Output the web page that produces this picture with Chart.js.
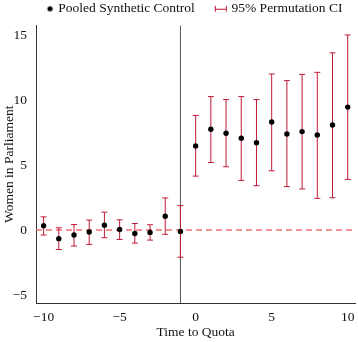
<!DOCTYPE html>
<html>
<head>
<meta charset="utf-8">
<script src="https://cdn.jsdelivr.net/npm/chart.js@4.4.1/dist/chart.umd.min.js"></script>
<style>
  html, body { margin: 0; padding: 0; background: #ffffff; }
  canvas { display: block; }
</style>
</head>
<body>
<canvas id="chart" width="358" height="342"></canvas>
<script>
// Years relative to quota adoption
const TIME = [-10, -9, -8, -7, -6, -5, -4, -3, -2, -1, 0, 1, 2, 3, 4, 5, 6, 7, 8, 9, 10];
// Pooled synthetic control estimate (women in parliament, % points)
const ESTIMATE = [0.33, -0.66, -0.38, -0.15, 0.38, 0.05, -0.26, -0.18, 1.07, -0.10,
                  6.49, 7.77, 7.46, 7.08, 6.74, 8.33, 7.41, 7.59, 7.33, 8.10, 9.48];
// 95% permutation confidence interval
const CI_LOWER = [-0.38, -1.50, -1.23, -1.10, -0.59, -0.72, -1.00, -0.77, -0.33, -2.09,
                  4.16, 5.21, 4.88, 3.83, 3.42, 4.57, 3.35, 3.17, 2.45, 2.50, 3.91];
const CI_UPPER = [1.02, 0.18, 0.43, 0.77, 1.38, 0.79, 0.51, 0.41, 2.48, 1.89,
                  8.84, 10.29, 10.06, 10.29, 10.06, 12.03, 11.52, 12.00, 12.16, 13.66, 15.04];

const X_TICKS = [-10, -5, 0, 5, 10];
const Y_TICKS = [-5, 0, 5, 10, 15];
const QUOTA_TIME = -1;
const SERIES_LABELS = ['Pooled Synthetic Control', '95% Permutation CI'];

const FONT = 'Liberation Serif, Times New Roman, serif';
const FONT_SIZE = 13.5;
const CI_COLOR = '#c21a37';
const ZERO_COLOR = '#f07070';

function minusSign(v) {
  return String(v).replace('-', '\u2212');
}

// Small canvases used as legend markers; the mark is offset from the canvas centre
function legendMarker(offsetX, draw) {
  const c = document.createElement('canvas');
  const half = Math.ceil(Math.abs(offsetX)) + 10;
  c.width = half * 2;
  c.height = 14;
  const g = c.getContext('2d');
  draw(g, half + offsetX, 7);
  return c;
}

const dotMarker = legendMarker(12.4, (g, cx, cy) => {
  g.fillStyle = '#000';
  g.beginPath();
  g.arc(cx, cy, 2.6, 0, Math.PI * 2);
  g.fill();
});

const ciMarker = legendMarker(9.5, (g, cx, cy) => {
  g.strokeStyle = CI_COLOR;
  g.lineWidth = 1;
  const l = Math.round(cx - 5.5) + 0.5, r = Math.round(cx + 5.5) + 0.5;
  g.beginPath();
  g.moveTo(l, cy - 3); g.lineTo(l, cy + 3);
  g.moveTo(r, cy - 3); g.lineTo(r, cy + 3);
  g.moveTo(l, cy + 0.5); g.lineTo(r, cy + 0.5);
  g.stroke();
});

// Zero reference, quota boundary and confidence intervals drawn beneath the points
const referencePlugin = {
  id: 'referenceAndErrorBars',
  afterLayout(chart) {
    const lg = chart.legend;
    if (lg) {
      lg.left = 21.6;
    }
  },
  beforeDatasetsDraw(chart) {
    const { ctx, chartArea, scales } = chart;
    const xs = scales.x, ys = scales.y;
    ctx.save();

    // dashed horizontal line at zero
    const y0 = ys.getPixelForValue(0);
    ctx.strokeStyle = ZERO_COLOR;
    ctx.lineWidth = 1.5;
    ctx.setLineDash([6, 4]);
    ctx.beginPath();
    ctx.moveTo(chartArea.left, y0);
    ctx.lineTo(chartArea.right, y0);
    ctx.stroke();
    ctx.setLineDash([]);

    // vertical line marking the quota
    const xq = xs.getPixelForValue(QUOTA_TIME);
    ctx.strokeStyle = '#555';
    ctx.lineWidth = 1;
    ctx.beginPath();
    ctx.moveTo(xq, chartArea.top);
    ctx.lineTo(xq, chartArea.bottom);
    ctx.stroke();

    // error bars
    ctx.strokeStyle = CI_COLOR;
    ctx.lineWidth = 1;
    TIME.forEach((t, i) => {
      const px = xs.getPixelForValue(t);
      const top = ys.getPixelForValue(CI_UPPER[i]);
      const bot = ys.getPixelForValue(CI_LOWER[i]);
      ctx.beginPath();
      ctx.moveTo(px, top); ctx.lineTo(px, bot);
      ctx.moveTo(px - 3, top); ctx.lineTo(px + 3, top);
      ctx.moveTo(px - 3, bot); ctx.lineTo(px + 3, bot);
      ctx.stroke();
    });
    ctx.restore();
  }
};

new Chart(document.getElementById('chart'), {
  type: 'scatter',
  data: {
    datasets: [{
      label: SERIES_LABELS[0],
      data: TIME.map((t, i) => ({ x: t, y: ESTIMATE[i] })),
      backgroundColor: '#000',
      borderColor: '#000',
      pointRadius: 2.7,
      pointHoverRadius: 2.7,
      borderWidth: 0
    }]
  },
  options: {
    responsive: false,
    animation: false,
    devicePixelRatio: 1,
    layout: { padding: 0 },
    plugins: {
      tooltip: { enabled: false },
      legend: {
        display: true,
        position: 'top',
        align: 'start',
        labels: {
          usePointStyle: true,
          pointStyleWidth: 27.95,
          padding: 2,
          color: '#111',
          font: { family: FONT, size: FONT_SIZE },
          generateLabels: () => [
            { text: SERIES_LABELS[0], pointStyle: dotMarker, fillStyle: '#000', strokeStyle: '#000', lineWidth: 0, hidden: false, datasetIndex: 0, fontColor: '#111' },
            { text: SERIES_LABELS[1], pointStyle: ciMarker, fillStyle: CI_COLOR, strokeStyle: CI_COLOR, lineWidth: 0, hidden: false, datasetIndex: 1, fontColor: '#111' }
          ]
        }
      }
    },
    scales: {
      x: {
        type: 'linear',
        min: -10.5,
        max: 10.5,
        afterBuildTicks: (s) => { s.ticks = X_TICKS.map(v => ({ value: v })); },
        afterFit: (s) => { s.height = 39; s.paddingLeft = 0; s.paddingRight = 0; },
        grid: { display: false, drawTicks: false },
        border: { display: true, color: '#333', width: 1 },
        ticks: {
          padding: 6,
          color: '#111',
          font: { family: FONT, size: FONT_SIZE },
          callback: (v) => minusSign(v)
        },
        title: {
          display: true,
          text: 'Time to Quota',
          color: '#111',
          font: { family: FONT, size: FONT_SIZE },
          padding: { top: 1, bottom: 1 }
        }
      },
      y: {
        type: 'linear',
        min: -5.62,
        max: 15.77,
        afterBuildTicks: (s) => { s.ticks = Y_TICKS.map(v => ({ value: v })); },
        afterFit: (s) => { s.width = 36; s.paddingTop = 0; s.paddingBottom = 0; },
        grid: { display: false, drawTicks: false },
        border: { display: true, color: '#333', width: 1 },
        ticks: {
          padding: 9,
          color: '#111',
          font: { family: FONT, size: FONT_SIZE },
          callback: (v) => minusSign(v)
        },
        title: {
          display: true,
          text: 'Women in Parliament',
          color: '#111',
          font: { family: FONT, size: FONT_SIZE },
          padding: { top: 1, bottom: 0 }
        }
      }
    }
  },
  plugins: [referencePlugin]
});
</script>
</body>
</html>
